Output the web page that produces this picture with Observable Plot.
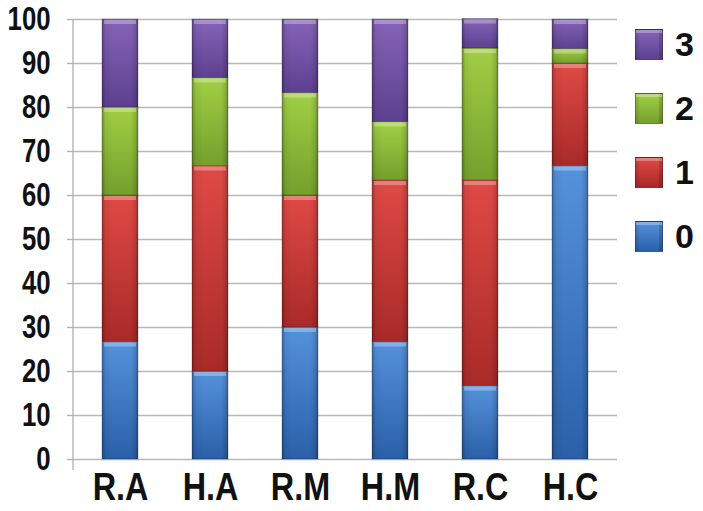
<!DOCTYPE html>
<html>
<head>
<meta charset="utf-8">
<script src="https://cdn.jsdelivr.net/npm/d3@7"></script>
<script src="https://cdn.jsdelivr.net/npm/@observablehq/plot@0.6"></script>
<style>
  html, body { margin: 0; padding: 0; background: #fff; }
  #wrap { position: relative; width: 703px; height: 511px; overflow: hidden; }
  #wrap svg { display: block; }
  .legend { position: absolute; left: 635px; top: 29px; font-family: "Liberation Sans", Arial, sans-serif; font-weight: bold; color: #111; }
  .item { position: absolute; left: 0; display: flex; align-items: center; height: 31px; }
  .sw { width: 28px; height: 31px; box-sizing: border-box; border: 1px solid rgba(0,0,0,0.35); }
  .lab { position: absolute; left: 40px; font-size: 34px; line-height: 31px; top: 0px; }
</style>
</head>
<body>
<div id="wrap"></div>
<script>
const categories = ["R.A", "H.A", "R.M", "H.M", "R.C", "H.C"];
const seriesNames = ["0", "1", "2", "3"];
const values0 = [26.7, 20, 30, 26.7, 16.7, 66.7];
const values1 = [33.3, 46.7, 30, 36.7, 46.7, 23.3];
const values2 = [20, 20, 23.3, 13.3, 30, 3.3];
const values3 = [20, 13.3, 16.7, 23.3, 6.7, 6.7];
const yTicks = [0, 10, 20, 30, 40, 50, 60, 70, 80, 90, 100];

// gradient colours (top, bottom) per series
const colorTop = ["#5592dc", "#e04a45", "#a2cf45", "#8664b8"];
const colorBottom = ["#2a60a8", "#a82a28", "#74a02c", "#5d4090"];

const seriesValues = [values0, values1, values2, values3];
const data = [];
categories.forEach((c, i) => {
  seriesNames.forEach((s, j) => {
    data.push({category: c, series: s, value: seriesValues[j][i]});
  });
});

const fontFam = "'Liberation Sans', Arial, sans-serif";

const plot = Plot.plot({
  width: 703,
  height: 511,
  marginLeft: 73,
  marginRight: 86,
  marginTop: 19,
  marginBottom: 52,
  style: {fontFamily: fontFam, fontWeight: "bold", color: "#111", background: "white"},
  x: {domain: categories, paddingInner: 0.6, paddingOuter: 0.3, label: null},
  y: {domain: [0, 100], label: null},
  color: {domain: seriesNames, range: seriesNames.map((s, i) => `url(#grad${i})`)},
  marks: [
    Plot.gridY(yTicks, {stroke: "#b8b8b8", strokeOpacity: 1, strokeWidth: 1.3}),
    Plot.barY(data, Plot.stackY({x: "category", y: "value", fill: "series", stroke: "rgba(0,0,0,0.3)", strokeWidth: 0.8})),
    Plot.barY(data, Plot.stackY({x: "category", y: "value", fill: "url(#edge)"})),
    Plot.tickY(data, Plot.stackY2({x: "category", y: "value", stroke: "white", strokeOpacity: 0.3, strokeWidth: 4, dy: 2.5, insetLeft: 2, insetRight: 2})),
    Plot.axisY(yTicks, {tickSize: 6, tickPadding: 17, fontSize: 33, stroke: "#b0b0b0", strokeWidth: 1.3, fill: "#111", label: null, tickFormat: d => String(d)}),
    Plot.axisX({tickSize: 0, tickPadding: 13, fontSize: 39, fill: "#111", label: null})
  ]
});

// gradient definitions
const svg = d3.select(plot);
const defs = svg.insert("defs", ":first-child");
seriesNames.forEach((s, i) => {
  const g = defs.append("linearGradient").attr("id", `grad${i}`).attr("x1", 0).attr("y1", 0).attr("x2", 0).attr("y2", 1);
  g.append("stop").attr("offset", "0").attr("stop-color", colorTop[i]);
  g.append("stop").attr("offset", "1").attr("stop-color", colorBottom[i]);
});
const edge = defs.append("linearGradient").attr("id", "edge").attr("x1", 0).attr("y1", 0).attr("x2", 1).attr("y2", 0);
[[0, 0.28], [0.1, 0.05], [0.3, 0], [0.8, 0], [0.93, 0.12], [1, 0.32]].forEach(([o, a]) => {
  edge.append("stop").attr("offset", o).attr("stop-color", "black").attr("stop-opacity", a);
});

// condense axis tick labels horizontally (the reference uses a narrow bold face)
function condense(sel, sx) {
  sel.each(function() {
    const t = d3.select(this);
    const tr = t.attr("transform");
    if (tr) {
      t.attr("transform", tr + ` scale(${sx},1)`);
    } else {
      const x = +t.attr("x") || 0, y = +t.attr("y") || 0;
      t.attr("x", null).attr("y", null).attr("transform", `translate(${x},${y}) scale(${sx},1)`);
    }
  });
}
condense(svg.selectAll("g[aria-label='y-axis tick label'] text"), 0.78);
condense(svg.selectAll("g[aria-label='x-axis tick label'] text"), 0.83);

// vertical y-axis line extending slightly below zero
const ys = plot.scale("y");
svg.append("line")
  .attr("x1", 73).attr("x2", 73)
  .attr("y1", ys.apply(100)).attr("y2", ys.apply(0) + 11)
  .attr("stroke", "#b0b0b0").attr("stroke-width", 1.3);

const wrap = document.getElementById("wrap");
wrap.appendChild(plot);

// legend (top to bottom: 3, 2, 1, 0)
const legend = document.createElement("div");
legend.className = "legend";
seriesNames.slice().reverse().forEach((s, k) => {
  const i = seriesNames.indexOf(s);
  const item = document.createElement("div");
  item.className = "item";
  item.style.top = (k * 64) + "px";
  const sw = document.createElement("div");
  sw.className = "sw";
  sw.style.background = `linear-gradient(to bottom, ${colorTop[i]}, ${colorBottom[i]})`;
  sw.style.boxShadow = "inset 0 3px 0 rgba(255,255,255,0.3), inset 3px 0 0 rgba(0,0,0,0.08), inset -3px 0 0 rgba(0,0,0,0.15)";
  const lab = document.createElement("div");
  lab.className = "lab";
  lab.textContent = s;
  item.appendChild(sw);
  item.appendChild(lab);
  legend.appendChild(item);
});
wrap.appendChild(legend);
</script>
</body>
</html>
